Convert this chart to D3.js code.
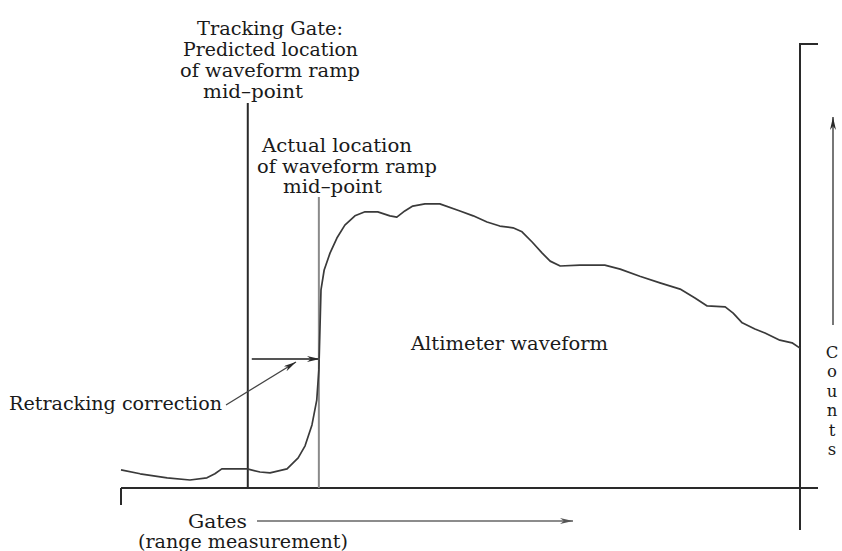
<!DOCTYPE html>
<html>
<head>
<meta charset="utf-8">
<script src="https://cdn.jsdelivr.net/npm/d3@7"></script>
<style>
  html, body { margin: 0; padding: 0; background: #fff; }
  svg text { font-family: "DejaVu Serif", "Liberation Serif", serif; fill: #1a1a1a; }
</style>
</head>
<body>
<svg id="chart" width="842" height="551"></svg>
<script>
// Altimeter return waveform: received counts per range gate
const gates = [0, 3.6, 8.7, 13.0, 16.2, 17.7, 19.0, 23.8, 26.2, 28.1, 31.3, 33.4, 34.7, 36.0, 36.9, 37.3, 37.5, 37.7, 38.3, 39.4,
  40.7, 42.2, 44.1, 46.0, 48.4, 50.7, 52.0, 53.5, 55.0, 57.3, 60.1, 63.9, 66.4, 69.0, 71.4, 73.9, 75.6, 77.5, 79.4, 80.9,
  82.8, 86.5, 91.2, 94.1, 97.8, 101.6, 105.4, 108.2, 110.5, 113.9, 115.4, 117.1, 119.5, 121.4, 124.2, 126.5, 128];
const counts = [4.1, 3.2, 2.3, 1.8, 2.3, 3.2, 4.3, 4.3, 3.6, 3.4, 4.3, 6.8, 9.5, 14.2, 19.8, 26.6, 35.6, 44.6, 49.1, 52.9,
  56.3, 59.2, 61.3, 62.2, 62.2, 61.3, 61.0, 62.4, 63.5, 64.0, 64.0, 62.4, 61.3, 59.9, 59.0, 58.6, 57.7, 55.4, 52.9, 51.1,
  50.0, 50.2, 50.2, 49.3, 47.7, 46.2, 44.8, 42.8, 41.0, 40.8, 39.4, 37.2, 35.8, 34.9, 33.3, 32.7, 31.5];

// Gate positions of the tracker prediction and the true ramp mid-point
const trackingGate = 23.9;
const actualMidpoint = 37.3;

const gateDomain = [0, 128];
const countDomain = [0, 100];

const svg = d3.select("#chart");
const x = d3.scaleLinear().domain(gateDomain).range([121, 800]);
const y = d3.scaleLinear().domain(countDomain).range([488, 44]);

const ink = "#2a2a2a";

// arrowheads
const defs = svg.append("defs");
function marker(id, color, len, wid) {
  defs.append("marker")
    .attr("id", id)
    .attr("viewBox", `0 0 ${len} ${wid}`)
    .attr("refX", len).attr("refY", wid / 2)
    .attr("markerWidth", len).attr("markerHeight", wid)
    .attr("markerUnits", "userSpaceOnUse")
    .attr("orient", "auto")
    .append("path")
    .attr("d", `M0,0 L${len},${wid / 2} L0,${wid} L${len * 0.3},${wid / 2} Z`)
    .attr("fill", color);
}
marker("headDark", ink, 13, 6);
marker("headGrey", "#555", 13, 6);

// frame: gate axis and counts axis
svg.append("line")
  .attr("x1", x(0)).attr("x2", x(128) + 18)
  .attr("y1", y(0)).attr("y2", y(0))
  .attr("stroke", ink).attr("stroke-width", 2);
svg.append("line")
  .attr("x1", x(0)).attr("x2", x(0))
  .attr("y1", y(0)).attr("y2", y(0) + 17)
  .attr("stroke", ink).attr("stroke-width", 2);
svg.append("line")
  .attr("x1", x(128)).attr("x2", x(128))
  .attr("y1", y(100) - 1).attr("y2", y(0) + 42)
  .attr("stroke", ink).attr("stroke-width", 2);
svg.append("line")
  .attr("x1", x(128)).attr("x2", x(128) + 18)
  .attr("y1", y(100)).attr("y2", y(100))
  .attr("stroke", ink).attr("stroke-width", 2);

// tracking gate and actual mid-point markers
svg.append("line")
  .attr("x1", x(trackingGate)).attr("x2", x(trackingGate))
  .attr("y1", 103).attr("y2", y(0))
  .attr("stroke", ink).attr("stroke-width", 2);
svg.append("line")
  .attr("x1", x(actualMidpoint)).attr("x2", x(actualMidpoint))
  .attr("y1", 197).attr("y2", y(0))
  .attr("stroke", "#8a8a8a").attr("stroke-width", 2);

// waveform
const line = d3.line().x((d, i) => x(gates[i])).y((d) => y(d));
svg.append("path")
  .datum(counts)
  .attr("d", line)
  .attr("fill", "none")
  .attr("stroke", "#3a3a3a")
  .attr("stroke-width", 1.7)
  .attr("stroke-linejoin", "round");

// retracking correction arrow
svg.append("line")
  .attr("x1", x(trackingGate) + 4).attr("x2", x(actualMidpoint) + 1)
  .attr("y1", 359).attr("y2", 359)
  .attr("stroke", "#555").attr("stroke-width", 2)
  .attr("marker-end", "url(#headDark)");
svg.append("line")
  .attr("x1", 226).attr("y1", 405)
  .attr("x2", 296).attr("y2", 362)
  .attr("stroke", "#444").attr("stroke-width", 1.3)
  .attr("marker-end", "url(#headDark)");

// gates direction arrow
svg.append("line")
  .attr("x1", 257).attr("x2", 573)
  .attr("y1", 521).attr("y2", 521)
  .attr("stroke", "#666").attr("stroke-width", 1.6)
  .attr("marker-end", "url(#headGrey)");

// counts direction arrow
svg.append("line")
  .attr("x1", 833).attr("x2", 833)
  .attr("y1", 325).attr("y2", 117)
  .attr("stroke", "#777").attr("stroke-width", 2)
  .attr("marker-end", "url(#headDark)");

// annotations (width fixed so each line spans its intended extent)
const fs = 17.6;
function label(txt, x0, by, width) {
  svg.append("text")
    .attr("x", x0).attr("y", by)
    .attr("font-size", fs)
    .attr("textLength", width)
    .attr("lengthAdjust", "spacingAndGlyphs")
    .text(txt);
}
label("Tracking Gate:", 197, 35, 146);
label("Predicted location", 183, 56, 175);
label("of waveform ramp", 180, 77, 180);
label("mid\u2013point", 203, 98, 100);

label("Actual location", 262, 152, 150);
label("of waveform ramp", 257, 172.5, 180);
label("mid\u2013point", 283, 193, 99);

label("Altimeter waveform", 411, 350, 197);
label("Retracking correction", 9, 410, 213);

label("Gates", 188, 528, 59);
label("(range measurement)", 138, 548, 210);

// vertical stacked axis title
const countsWord = "Counts".split("");
svg.append("g")
  .selectAll("text")
  .data(countsWord)
  .join("text")
  .attr("x", 832)
  .attr("y", (d, i) => 358 + i * 19.4)
  .attr("text-anchor", "middle")
  .attr("font-size", 16.5)
  .text((d) => d);
</script>
</body>
</html>
